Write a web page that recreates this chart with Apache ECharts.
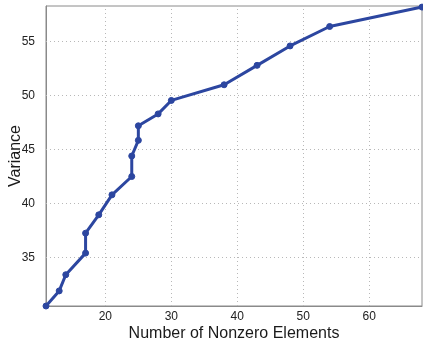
<!DOCTYPE html>
<html>
<head>
<meta charset="utf-8">
<script src="https://cdn.jsdelivr.net/npm/echarts@6/dist/echarts.min.js"></script>
<style>html,body{margin:0;padding:0;background:#fff;}#c{width:423px;height:347px;}</style>
</head>
<body>
<div id="c"></div>
<script>
const xValues = [11, 13, 14, 17, 17, 19, 21, 24, 24, 25, 25, 28, 30, 38, 43, 48, 54, 68];
const yValues = [30.5, 31.9, 33.4, 35.4, 37.25, 38.95, 40.8, 42.5, 44.4, 45.85, 47.2, 48.3, 49.55, 51.0, 52.8, 54.6, 56.4, 58.2];
const xTicks = [20, 30, 40, 50, 60];
const yTicks = [35, 40, 45, 50, 55];

const points = xValues.map((x, i) => [x, yValues[i]]);
const chart = echarts.init(document.getElementById('c'), null, {renderer: 'canvas'});
const font = 'Liberation Sans, Arial, Helvetica, sans-serif';
const gridLineStyle = {color: '#b8b8b8', type: [1, 3], width: 1};
const gridMarks = xTicks.map(v => ({xAxis: v})).concat(yTicks.map(v => ({yAxis: v})));
chart.setOption({
  animation: false,
  backgroundColor: '#fff',
  grid: {left: 46, right: 1, top: 6, bottom: 41, containLabel: false, outerBoundsMode: 'none',
    show: true, borderColor: '#8a8a8a', borderWidth: 1, backgroundColor: 'transparent'},
  xAxis: {
    type: 'value', min: 11, max: 68,
    name: 'Number of Nonzero Elements', nameLocation: 'middle', nameGap: 20, nameMoveOverlap: false,
    nameTextStyle: {fontFamily: font, fontSize: 16, color: '#1a1a1a'},
    axisLine: {show: true, lineStyle: {color: '#8a8a8a'}},
    axisTick: {show: false, customValues: xTicks},
    splitLine: {show: false},
    axisLabel: {fontFamily: font, fontSize: 12, color: '#222', margin: 5, customValues: xTicks}
  },
  yAxis: {
    type: 'value', min: 30.5, max: 58.3,
    name: 'Variance', nameLocation: 'middle', nameGap: 22, nameMoveOverlap: false,
    nameTextStyle: {fontFamily: font, fontSize: 16, color: '#1a1a1a'},
    axisLine: {show: true, lineStyle: {color: '#8a8a8a'}},
    axisTick: {show: false, customValues: yTicks},
    splitLine: {show: false},
    axisLabel: {fontFamily: font, fontSize: 12, color: '#222', margin: 11, customValues: yTicks}
  },
  series: [{
    type: 'line', data: points, z: 3,
    lineStyle: {color: '#2c46a0', width: 3},
    itemStyle: {color: '#2c46a0', borderColor: '#2c46a0'},
    symbol: 'circle', symbolSize: 6, showSymbol: true,
    clip: false,
    markLine: {
      silent: true, symbol: 'none', label: {show: false}, z: 1,
      lineStyle: gridLineStyle,
      emphasis: {disabled: true},
      data: gridMarks
    }
  }]
});
</script>
</body>
</html>
